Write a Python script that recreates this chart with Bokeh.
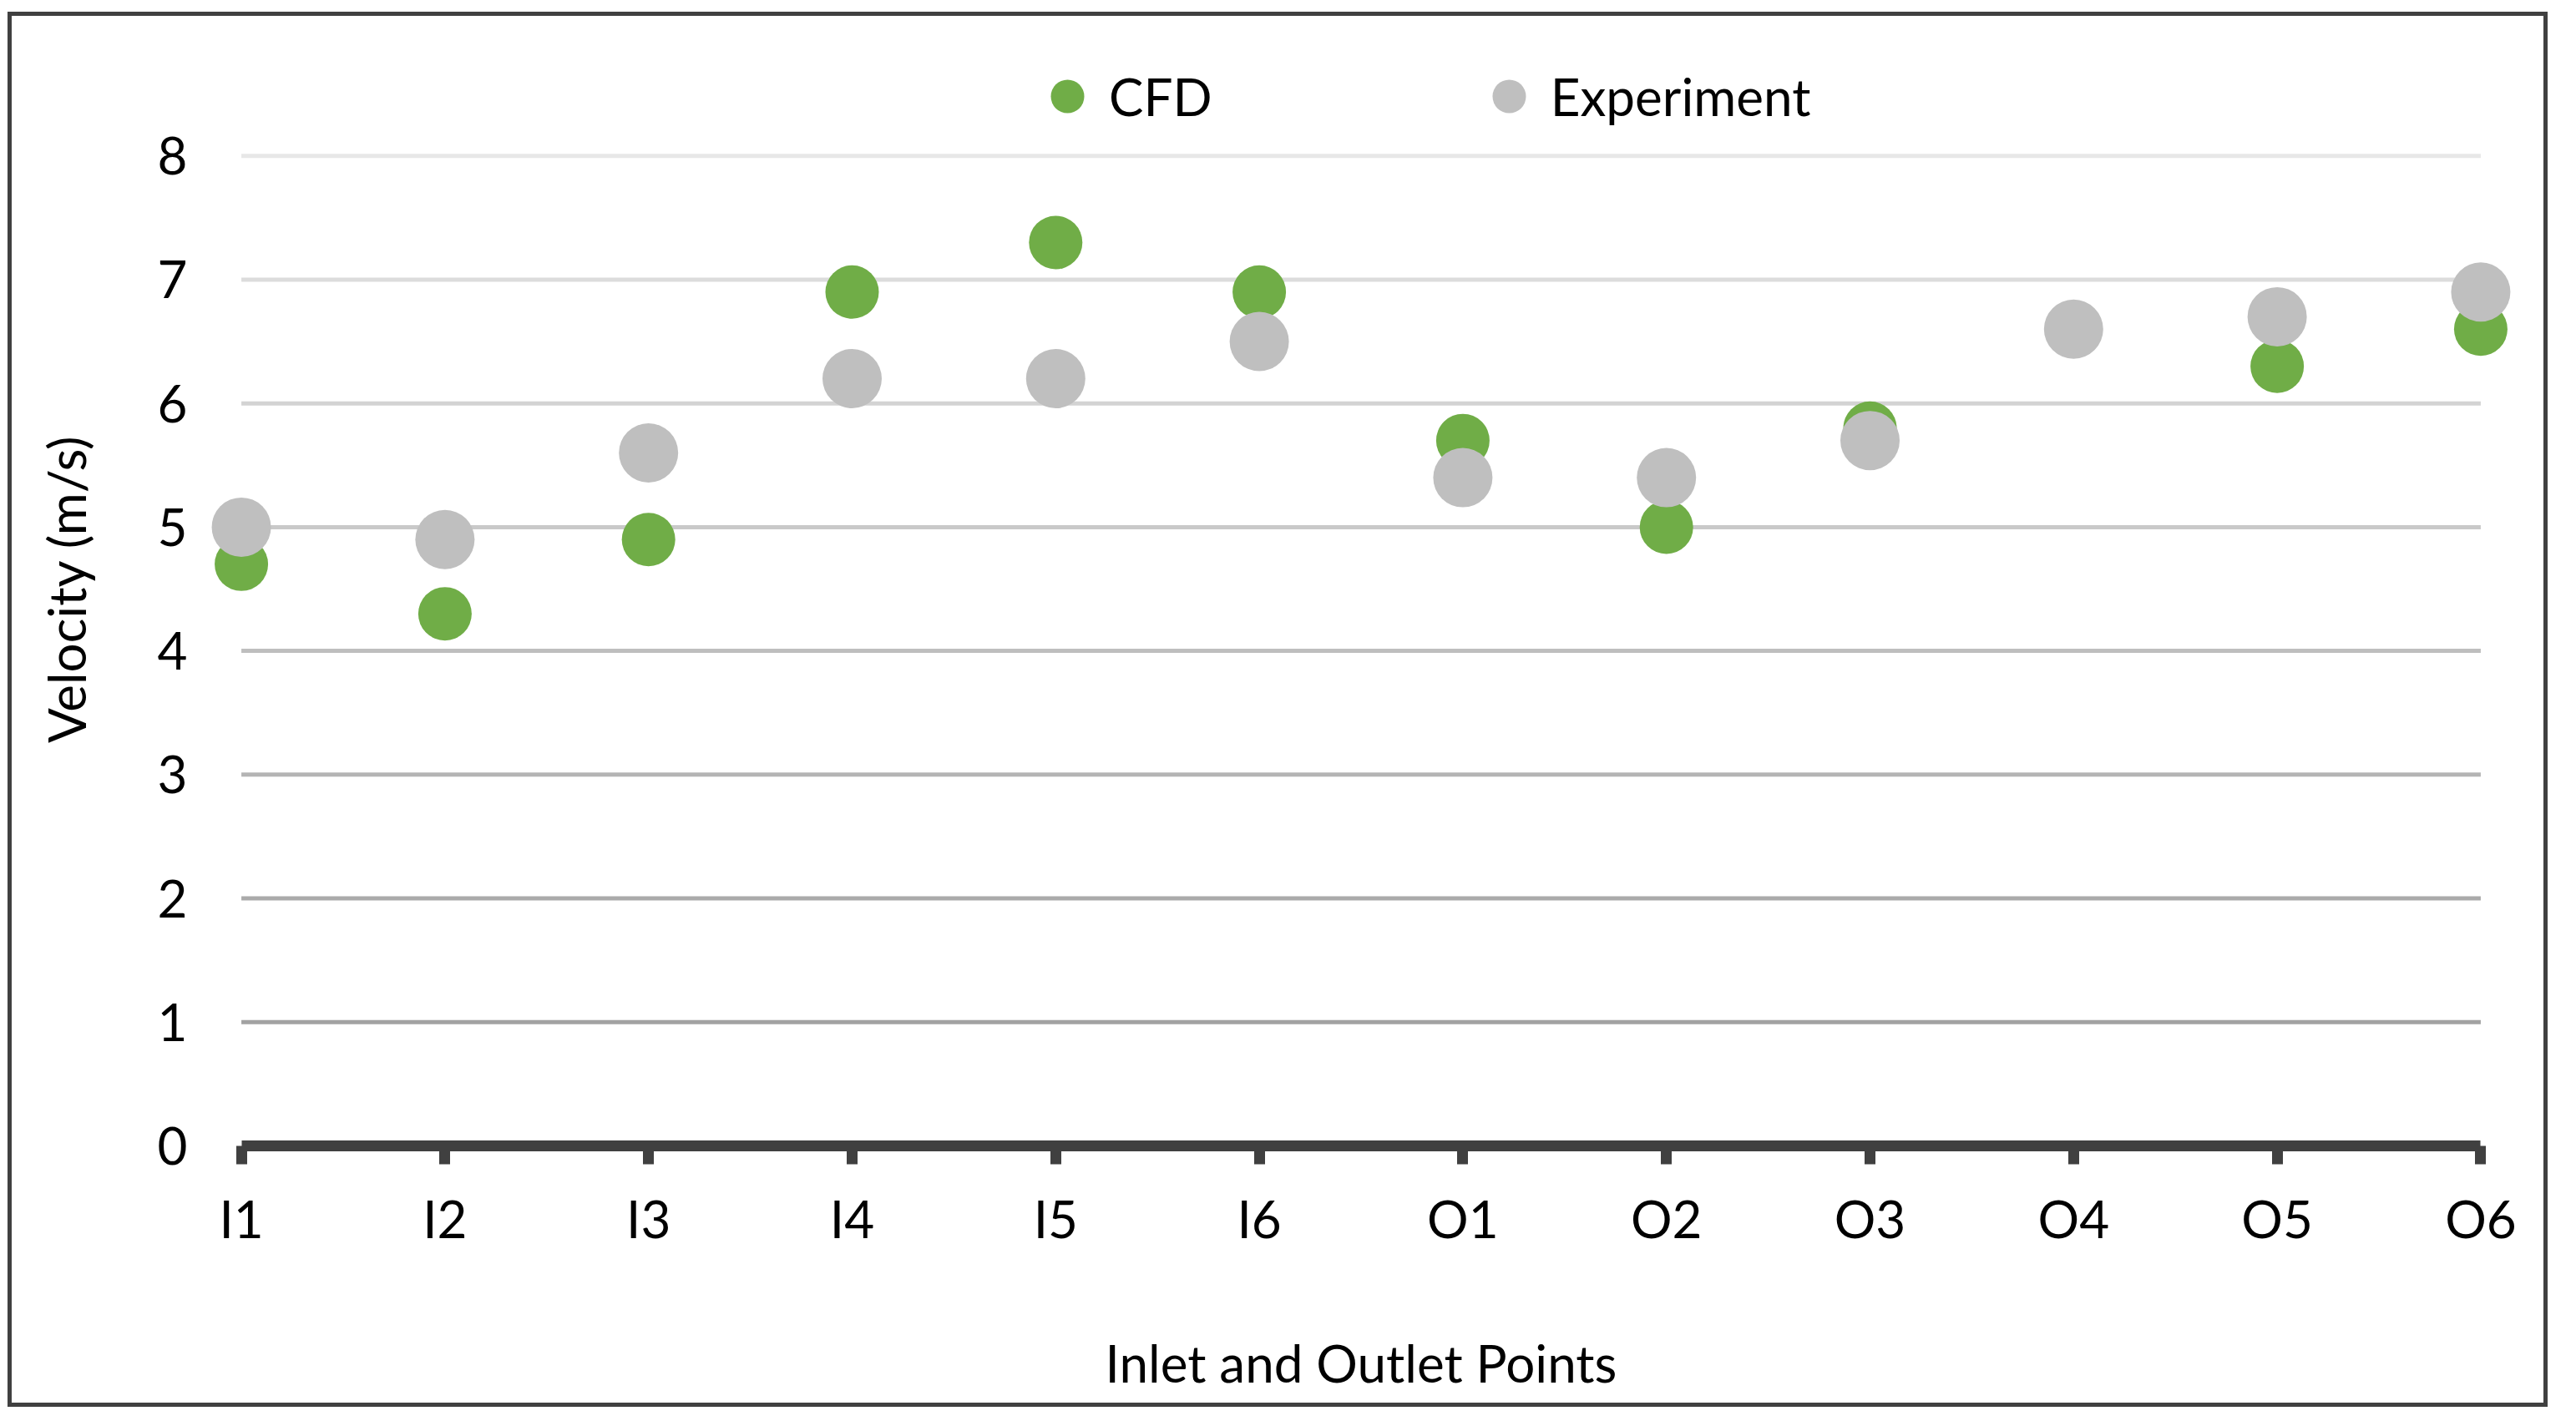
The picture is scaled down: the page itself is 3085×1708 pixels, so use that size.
from bokeh.plotting import figure
from bokeh.models import FixedTicker, Legend, LegendItem
from bokeh.embed import file_html
from bokeh.resources import INLINE

categories = ["I1", "I2", "I3", "I4", "I5", "I6", "O1", "O2", "O3", "O4", "O5", "O6"]
cfd = [4.7, 4.3, 4.9, 6.9, 7.3, 6.9, 5.7, 5.0, 5.8, 6.6, 6.3, 6.6]
experiment = [5.0, 4.9, 5.6, 6.2, 6.2, 6.5, 5.4, 5.4, 5.7, 6.6, 6.7, 6.9]
y_ticks = [0, 1, 2, 3, 4, 5, 6, 7, 8]
grid_values = [1, 2, 3, 4, 5, 6, 7, 8]
grid_colors = ["#A2A2A2", "#AAAAAA", "#B4B4B4", "#BEBEBE", "#C9C9C9", "#D3D3D3", "#DCDCDC", "#E7E7E7"]

FONT = "Lato"
FS = "62px"
x = list(range(len(categories)))

# y range extends above 8 so the legend sits inside the frame (above the top gridline)
p = figure(width=3042, height=1671, x_range=(-0.15, 11.15), y_range=(0, 9),
           output_backend="svg", toolbar_location=None,
           min_border_left=238, min_border_right=49, min_border_top=19, min_border_bottom=318)
p.styles = {"border": "5px solid #404040", "margin-left": "9px", "margin-top": "14px"}
p.outline_line_color = None
p.background_fill_color = "white"
p.border_fill_color = "white"
p.xgrid.visible = False
p.ygrid.visible = False

# horizontal gridlines spanning the category extent
p.segment(x0=[x[0]] * len(grid_values), x1=[x[-1]] * len(grid_values),
          y0=grid_values, y1=grid_values, line_color=grid_colors, line_width=5)

r_cfd = p.scatter(x, cfd, size=64, fill_color="#70AD47", line_color=None)
r_exp = p.scatter(x, experiment, size=71, fill_color="#BFBFBF", line_color=None)

# x axis
xa = p.xaxis[0]
xa.ticker = FixedTicker(ticks=x)
xa.major_label_overrides = {i: c for i, c in zip(x, categories)}
xa.bounds = (x[0], x[-1])
xa.axis_line_color = "#404040"
xa.axis_line_width = 13
xa.major_tick_line_color = "#404040"
xa.major_tick_line_width = 13
xa.major_tick_out = 22
xa.major_tick_in = 0
xa.minor_tick_line_color = None
xa.major_label_standoff = 27
xa.major_label_text_font = FONT
xa.major_label_text_font_size = FS
xa.major_label_text_color = "#000000"
xa.axis_label = "Inlet and Outlet Points"
xa.axis_label_text_font = FONT
xa.axis_label_text_font_size = FS
xa.axis_label_text_font_style = "normal"
xa.axis_label_text_color = "#000000"
xa.axis_label_standoff = 96

# y axis
ya = p.yaxis[0]
ya.ticker = FixedTicker(ticks=y_ticks)
ya.axis_line_color = None
ya.major_tick_line_color = None
ya.minor_tick_line_color = None
ya.major_tick_out = 0
ya.major_tick_in = 0
ya.major_label_standoff = 28
ya.major_label_text_font = FONT
ya.major_label_text_font_size = FS
ya.major_label_text_color = "#000000"
ya.axis_label = "Velocity (m/s)"
ya.axis_label_text_font = FONT
ya.axis_label_text_font_size = FS
ya.axis_label_text_font_style = "normal"
ya.axis_label_text_color = "#000000"
ya.axis_label_standoff = 70

legend = Legend(items=[LegendItem(label="CFD", renderers=[r_cfd]),
                       LegendItem(label="Experiment", renderers=[r_exp])],
                orientation="horizontal", location=(976, 1207),
                glyph_width=100, glyph_height=100, label_standoff=-18, spacing=305,
                padding=0, margin=0, border_line_color=None, background_fill_alpha=0,
                label_text_font=FONT, label_text_font_size=FS, label_text_color="#000000")
p.add_layout(legend, "center")

open("out.html", "w").write(file_html(p, INLINE))
